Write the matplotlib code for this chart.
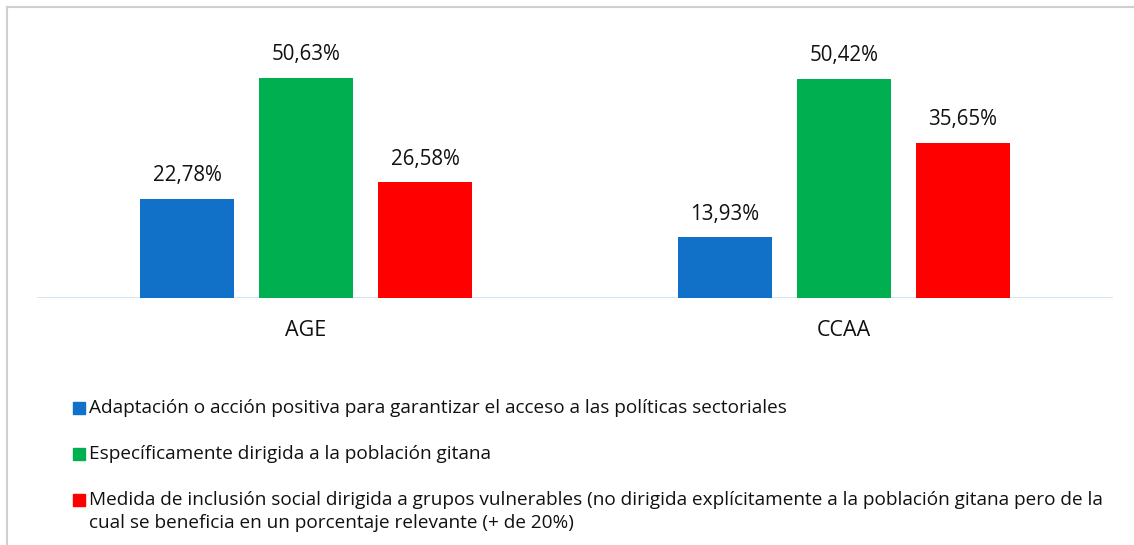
import matplotlib
matplotlib.use("Agg")
import matplotlib.pyplot as plt
from matplotlib.patches import Rectangle
from matplotlib.lines import Line2D
import numpy as np

categories = ["AGE", "CCAA"]
series_names = [
    "Adaptación o acción positiva para garantizar el acceso a las políticas sectoriales",
    "Específicamente dirigida a la población gitana",
    "Medida de inclusión social dirigida a grupos vulnerables (no dirigida explícitamente a la población gitana pero de la\ncual se beneficia en un porcentaje relevante (+ de 20%)",
]
adaptacion = [22.78, 13.93]
especifica = [50.63, 50.42]
inclusion = [26.58, 35.65]
colors = ["#1170C8", "#00B050", "#FF0000"]

plt.rcParams['font.family'] = ['Open Sans', 'DejaVu Sans']

W, H = 1134, 545
fig = plt.figure(figsize=(W / 100, H / 100), dpi=100)

def fx(px):
    return px / W

def fy(py):
    return 1 - py / H

ymax = 60
top_px = 298 - ymax * 4.35
ax = fig.add_axes([fx(37), fy(298), fx(1113) - fx(37), (298 - top_px) / H])
ax.set_xlim(-0.5, 1.5)
ax.set_ylim(0, ymax)
for s in ax.spines.values():
    s.set_visible(False)
ax.axhline(0, color="#CFE3F3", lw=2, zorder=1)
ax.set_yticks([])
ax.set_xticks([])

x = np.arange(len(categories))
bw = 94 / 538
off = 119 / 538
for i, (vals, c) in enumerate(zip([adaptacion, especifica, inclusion], colors)):
    xs = x + (i - 1) * off
    ax.bar(xs, vals, width=bw, color=c, zorder=2)
    for xx, v in zip(xs, vals):
        ax.annotate(f"{v:.2f}".replace(".", ",") + "%", (xx, v), xytext=(0, 9),
                    textcoords="offset points", ha="center", va="bottom",
                    fontsize=14.8, color="#111111")

for xi, cat in zip(x, categories):
    ax.text(xi, -7.5, cat, ha="center", va="center", fontsize=15.5, color="#111111")

# legend
leg_rows = [408, 454, 500]
for name, c, ry in zip(series_names, colors, leg_rows):
    fig.patches.append(Rectangle((fx(73), fy(ry + 6)), 12 / W, 12 / H,
                                 transform=fig.transFigure, color=c))
    for k, line in enumerate(name.split("\n")):
        fig.text(fx(89), fy(ry + 5 + k * 23.5), line, ha="left", va="baseline",
                 fontsize=13.7, color="#111111")

# border
fig.add_artist(Line2D([fx(7), 1], [fy(7), fy(7)], color="#CFCFCF", lw=1.5,
                      transform=fig.transFigure))
fig.add_artist(Line2D([fx(7), fx(7)], [fy(7), 0], color="#CFCFCF", lw=1.5,
                      transform=fig.transFigure))

fig.savefig("out.png", dpi=100)
